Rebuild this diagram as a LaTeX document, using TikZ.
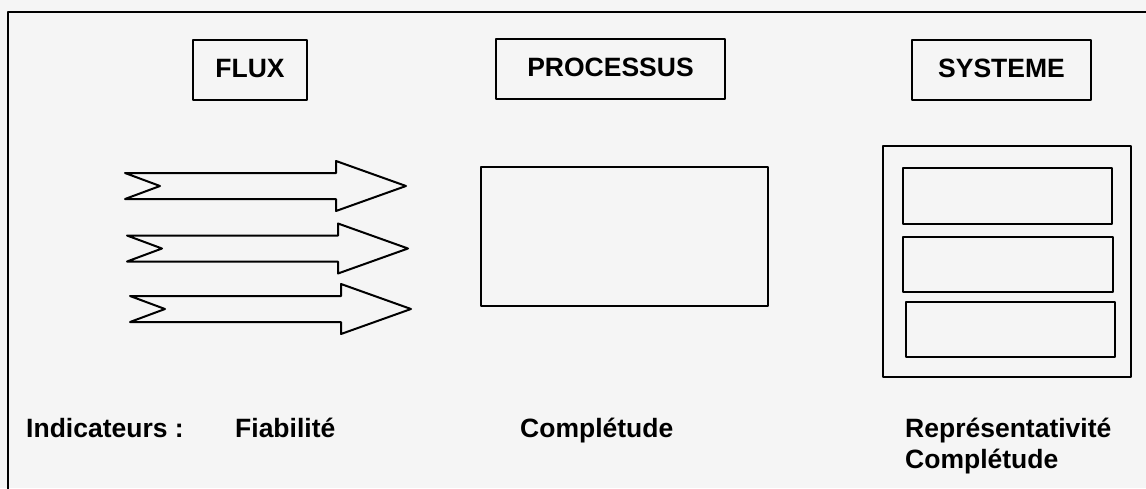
\documentclass[tikz,border=0pt]{standalone}
\usepackage{fontspec}
\setmainfont{Liberation Sans}
\definecolor{paper}{HTML}{F5F5F5}
\tikzset{
  ink/.style={line width=2pt, draw=black, line join=round},
  titlebox/.style={ink, rectangle, inner sep=0pt, text depth=4pt, font=\bfseries\fontsize{26.5}{31}\selectfont},
  plainbox/.style={ink, rectangle, inner sep=0pt},
  label/.style={anchor=base west, inner sep=0pt, font=\bfseries\fontsize{26.5}{31}\selectfont, align=left},
  % a wide notched arrow; origin at the tail's middle
  flowarrow/.pic={
    \draw[ink] (0,-13) -- (211,-13) -- (211,-25) -- (281,0) -- (211,25)
      -- (211,13) -- (0,13) -- (35,0) -- cycle;
  }
}
\begin{document}
\begin{tikzpicture}[x=1pt,y=-1pt]
  \useasboundingbox (0,0) rectangle (1146,488);
  \fill[paper] (0,0) rectangle (1146,488);

  % outer frame, open to the right and bottom
  \draw[ink] (8,492) -- (8,12) -- (1150,12);

  % column titles
  \node[titlebox, minimum width=114pt, minimum height=60pt] (flux) at (250,70) {FLUX};
  \node[titlebox, minimum width=229pt, minimum height=60pt] (proc) at (610.5,69) {PROCESSUS};
  \node[titlebox, minimum width=179pt, minimum height=60pt] (sys) at (1001.5,70) {SYSTEME};

  % flows
  \pic at (125,186) {flowarrow};
  \pic at (127,248.5) {flowarrow};
  \pic at (130,309) {flowarrow};

  % process
  \node[plainbox, minimum width=287pt, minimum height=139pt] (procbox) at (624.5,236.5) {};

  % system with its three components
  \node[plainbox, minimum width=248pt, minimum height=231pt] (sysbox) at (1007,261.5) {};
  \node[plainbox, minimum width=209pt, minimum height=56pt] (sysa) at (1007.5,196) {};
  \node[plainbox, minimum width=210pt, minimum height=55pt] (sysb) at (1008,264.5) {};
  \node[plainbox, minimum width=209pt, minimum height=55pt] (sysc) at (1010.5,329.5) {};

  % indicators
  \node[label] (ind) at (26,437) {Indicateurs :};
  \node[label] (fiab) at (235,437) {Fiabilité};
  \node[label] (compl) at (520,437) {Complétude};
  \node[label] (repr) at (905,468) {Représentativité\\Complétude};
\end{tikzpicture}
\end{document}
